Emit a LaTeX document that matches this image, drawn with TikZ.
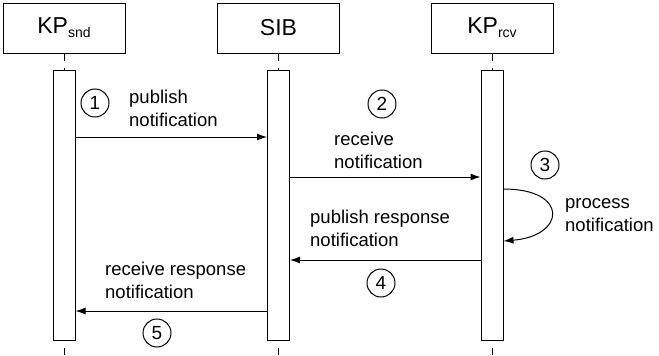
\documentclass[tikz,border=0pt]{standalone}
\usepackage{fontspec}
\setmainfont{Liberation Sans}
\usetikzlibrary{positioning,arrows.meta}

\tikzset{
  lifebox/.style={draw,line width=1pt,minimum width=122pt,minimum height=50pt,inner sep=0pt,font=\fontsize{23}{26}\selectfont},
  actbar/.style={draw,fill=white,line width=1pt,minimum width=22pt,minimum height=270pt,inner sep=0pt},
  lifeline/.style={line width=1pt,dash pattern=on 7pt off 7pt},
  msg/.style={line width=1pt,-{Latex[length=10pt,width=7pt]}},
  stepno/.style={draw,circle,line width=1pt,minimum size=28pt,inner sep=0pt,font=\fontsize{19}{19}\selectfont},
  msgtxt/.style={align=left,anchor=base west,inner sep=0pt,font=\fontsize{18.5}{23}\selectfont}
}
\newcommand{\lowsub}[1]{\raisebox{-4pt}{\fontsize{14}{14}\selectfont #1}}

\begin{document}
\begin{tikzpicture}[x=1pt,y=1pt]
    \useasboundingbox (0,0) rectangle (659,-356);

    % lifelines
    \node[lifebox] (snd) at (64,-28) {KP\lowsub{snd}};
    \node[lifebox] (sib) at (278.5,-28) {SIB};
    \node[lifebox] (rcv) at (492,-28) {KP\lowsub{rcv}};
    \coordinate (sndend) at (snd.south |- 0,-356);
    \coordinate (sibend) at (sib.south |- 0,-356);
    \coordinate (rcvend) at (rcv.south |- 0,-356);
    \draw[lifeline] (snd) -- (sndend);
    \draw[lifeline] (sib) -- (sibend);
    \draw[lifeline] (rcv) -- (rcvend);

    \node[actbar,below=16pt of snd] (sndbar) {};
    \node[actbar,below=16pt of sib] (sibbar) {};
    \node[actbar,below=16pt of rcv] (rcvbar) {};

    % message heights
    \coordinate (m1) at (0,-137);
    \coordinate (m2) at (0,-177);
    \coordinate (m3a) at (0,-189);
    \coordinate (m3b) at (0,-241);
    \coordinate (m4) at (0,-260);
    \coordinate (m5) at (0,-311);

    \draw[msg] (sndbar.east |- m1) -- (sibbar.west |- m1);
    \draw[msg] (sibbar.east |- m2) -- (rcvbar.west |- m2);
    \draw[msg] (rcvbar.east |- m3a) .. controls +(66,0) and +(62,5) .. (rcvbar.east |- m3b);
    \draw[msg] (rcvbar.west |- m4) -- (sibbar.east |- m4);
    \draw[msg] (sibbar.west |- m5) -- (sndbar.east |- m5);

    % steps
    \node[stepno] (s1) at (95,-103) {1};
    \node[stepno] (s2) at (382,-104) {2};
    \node[stepno] (s3) at (545,-165) {3};
    \node[stepno] (s4) at (381,-283) {4};
    \node[stepno] (s5) at (157,-333) {5};

    % labels (base = last line)
    \node[msgtxt] (t1) at (129,-126) {publish\\notification};
    \node[msgtxt] (t2) at (334,-168) {receive\\notification};
    \node[msgtxt] (t3) at (565,-231) {process\\notification};
    \node[msgtxt] (t4) at (310,-246) {publish response\\notification};
    \node[msgtxt] (t5) at (105,-298) {receive response\\notification};
\end{tikzpicture}
\end{document}
